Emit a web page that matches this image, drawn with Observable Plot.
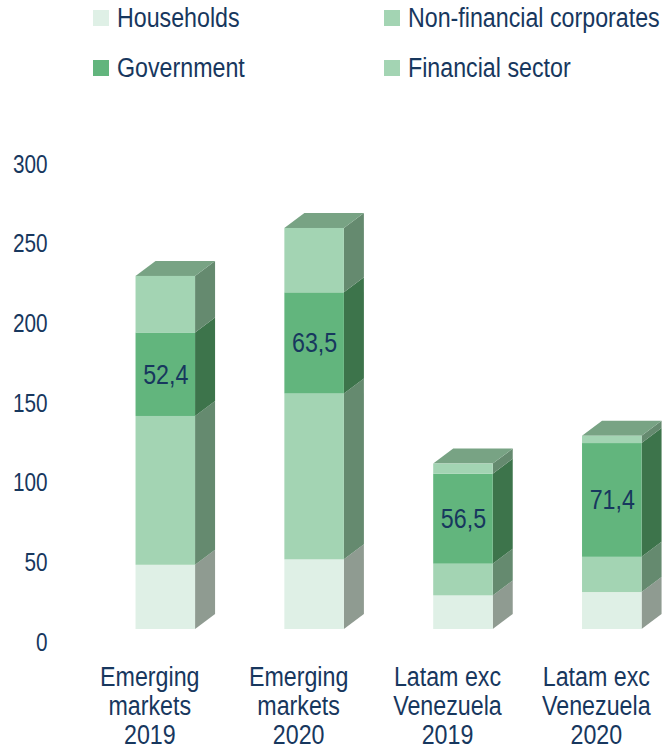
<!DOCTYPE html>
<html><head><meta charset="utf-8">
<script src="https://cdn.jsdelivr.net/npm/d3@7"></script>
<script src="https://cdn.jsdelivr.net/npm/@observablehq/plot@0.6"></script>
<style>
body{margin:0;background:#fff;font-family:"Liberation Sans",Arial,sans-serif;}
#wrap{position:relative;width:671px;height:755px;overflow:hidden;}
#legend{position:absolute;left:0;top:0;width:671px;height:100px;}
.item{position:absolute;height:30px;display:flex;align-items:center;font-size:27px;color:#17375e;white-space:nowrap;line-height:1;}
.sw{width:16px;height:16px;margin-right:8px;flex:none;}
.lab{display:inline-block;transform:scaleX(0.86);transform-origin:left center;}
#chart{position:absolute;left:0;top:100px;}
</style></head>
<body>
<div id="wrap"><div id="legend"></div><div id="chart"></div></div>
<script>
// ---- data ----
const categories = ["Emerging\nmarkets\n2019", "Emerging\nmarkets\n2020", "Latam exc\nVenezuela\n2019", "Latam exc\nVenezuela\n2020"];
const households   = [40.3, 43.7, 21.1, 23.2];
const nonFinancial = [93.4, 104.1, 19.9, 22.1];
const government   = [52.4, 63.5, 56.5, 71.4];
const financial    = [35.5, 40.4, 6.3, 4.6];
const seriesNames  = ["Households", "Non-financial corporates", "Government", "Financial sector"];
const yTicks       = [0, 50, 100, 150, 200, 250, 300];

// ---- styles ----
const frontColors = ["#dff0e6", "#a3d4b3", "#62b57d", "#a3d4b3"];
const sideColors  = ["#8f9b91", "#658a6f", "#3d744b", "#658a6f"];
const topColor = "#78a384";
const textColor = "#17375e";
const fontFamily = '"Liberation Sans",Arial,sans-serif';
const squeeze = 0.83;

// legend
const legendPos = [[93, 3], [384, 3], [93, 53], [384, 53]];
const legend = document.getElementById("legend");
seriesNames.forEach((name, j) => {
  const it = document.createElement("div");
  it.className = "item";
  it.style.left = legendPos[j][0] + "px";
  it.style.top = legendPos[j][1] + "px";
  it.innerHTML = `<span class="sw" style="background:${frontColors[j]}"></span><span class="lab">${name}</span>`;
  legend.appendChild(it);
});

const valuesBySeries = [households, nonFinancial, government, financial];
const halfW = 0.2;           // half bar width (index units)
const dX = 20 / 148.8;       // depth offset in x (index units)
const dY = 15 / 1.593;       // depth offset in y (value units)

const segs = [];
categories.forEach((c, i) => {
  let y0 = 0;
  valuesBySeries.forEach((vals, j) => {
    const v = vals[i];
    segs.push({i, j, v, y0, y1: y0 + v, front: frontColors[j], side: sideColors[j], key: i + "-" + j});
    y0 += v;
  });
});
const sideData = segs.flatMap(s => [
  {key: s.key, fill: s.side, x: s.i + halfW, y1: s.y0, y2: s.y1},
  {key: s.key, fill: s.side, x: s.i + halfW + dX, y1: s.y0 + dY, y2: s.y1 + dY}
]);
const totals = categories.map((c, i) => d3.sum(valuesBySeries, vals => vals[i]));
const topData = totals.flatMap((t, i) => [
  {i, y: t, x1: i - halfW, x2: i + halfW},
  {i, y: t + dY, x1: i - halfW + dX, x2: i + halfW + dX}
]);
const govSegs = segs.filter(s => s.j === 2);
const fmt = v => d3.format(".1f")(v).replace(".", ",");

const chart = Plot.plot({
  width: 671,
  height: 655,
  marginLeft: 165.3,
  marginRight: 59.2,
  marginTop: 51,
  marginBottom: 126,
  x: {domain: [0, 3], axis: null, label: null},
  y: {domain: [0, 300], axis: null, label: null},
  color: {type: "identity"},
  style: {fontFamily, color: textColor, background: "white", overflow: "visible"},
  marks: [
    Plot.areaY(sideData, {x: "x", y1: "y1", y2: "y2", z: "key", fill: "fill"}),
    Plot.areaX(topData, {y: "y", x1: "x1", x2: "x2", z: "i", fill: topColor}),
    Plot.rect(segs, {x1: d => d.i - halfW, x2: d => d.i + halfW, y1: "y0", y2: "y1", fill: "front"}),
    Plot.text(govSegs, {x: "i", y: d => (d.y0 + d.y1) / 2, text: d => fmt(d.v), fontSize: 28, fill: textColor}),
    Plot.axisY(yTicks, {tickSize: 0, tickPadding: 118.3, dy: 13, fontSize: 25, label: null}),
    Plot.text(categories, {x: (d, i) => i, y: () => 0, text: d => d, dx: -16, dy: 36, lineAnchor: "top", lineHeight: 1.04, fontSize: 28, fill: textColor})
  ]
});
// emulate a narrow typeface by compressing text horizontally around its anchor
chart.querySelectorAll("text").forEach(t => {
  const x = parseFloat(t.getAttribute("x"));
  const ax = Number.isFinite(x) ? x : 0;
  const tr = t.getAttribute("transform") || "";
  t.setAttribute("transform", `${tr} translate(${ax},0) scale(${squeeze},1) translate(${-ax},0)`);
});
document.getElementById("chart").appendChild(chart);
</script>
</body></html>
